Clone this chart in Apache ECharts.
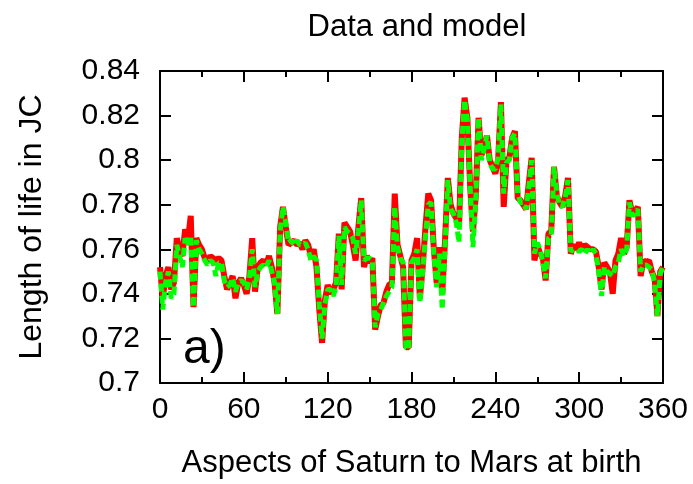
<!DOCTYPE html>
<html>
<head>
<meta charset="utf-8">
<script src="https://cdn.jsdelivr.net/npm/echarts@6/dist/echarts.min.js"></script>
<style>
  html, body { margin: 0; padding: 0; background: #fff; }
  #chart { width: 693px; height: 484px; }
</style>
</head>
<body>
<div id="chart"></div>
<script>
// aspect angle, every 2 degrees from 0 to 360
var angles = [];
for (var a = 0; a <= 360; a += 2) angles.push(a);

// measured length of life (red)
var dataValues = [
  0.752, 0.738, 0.748, 0.752, 0.742, 0.745, 0.765, 0.760, 0.757, 0.769,
  0.764, 0.775, 0.734, 0.765, 0.762, 0.760, 0.756, 0.755, 0.757, 0.756,
  0.755, 0.756, 0.755, 0.748, 0.742, 0.745, 0.748, 0.738, 0.745, 0.747,
  0.744, 0.740, 0.748, 0.765, 0.741, 0.752, 0.754, 0.755, 0.753, 0.757,
  0.752, 0.745, 0.731, 0.770, 0.779, 0.770, 0.762, 0.763, 0.764, 0.762,
  0.763, 0.760, 0.764, 0.762, 0.757, 0.760, 0.752, 0.733, 0.718, 0.737,
  0.744, 0.740, 0.742, 0.745, 0.767, 0.742, 0.772, 0.770, 0.768, 0.762,
  0.755, 0.770, 0.783, 0.752, 0.757, 0.754, 0.756, 0.724, 0.730, 0.735,
  0.736, 0.741, 0.744, 0.745, 0.785, 0.762, 0.757, 0.752, 0.716, 0.716,
  0.755, 0.758, 0.765, 0.738, 0.752, 0.770, 0.785, 0.782, 0.760, 0.745,
  0.761, 0.740, 0.764, 0.792, 0.780, 0.776, 0.774, 0.770, 0.810, 0.828,
  0.819, 0.788, 0.768, 0.784, 0.819, 0.802, 0.806, 0.811, 0.800, 0.797,
  0.794, 0.800, 0.826, 0.779, 0.800, 0.801, 0.810, 0.813, 0.783, 0.782,
  0.780, 0.778, 0.790, 0.801, 0.755, 0.762, 0.758, 0.756, 0.746, 0.767,
  0.768, 0.797, 0.784, 0.781, 0.779, 0.784, 0.792, 0.758, 0.762, 0.760,
  0.763, 0.760, 0.762, 0.761, 0.760, 0.760, 0.759, 0.752, 0.742, 0.754,
  0.752, 0.750, 0.740, 0.755, 0.758, 0.765, 0.758, 0.761, 0.782, 0.776,
  0.777, 0.779, 0.748, 0.755, 0.754, 0.755, 0.750, 0.747, 0.730, 0.750,
  0.752
];

// model (green, dashed)
var modelValues = [
  0.750, 0.733, 0.745, 0.750, 0.738, 0.740, 0.762, 0.757, 0.752, 0.765,
  0.762, 0.766, 0.734, 0.764, 0.760, 0.758, 0.755, 0.753, 0.755, 0.754,
  0.748, 0.754, 0.754, 0.746, 0.743, 0.744, 0.747, 0.741, 0.745, 0.746,
  0.745, 0.742, 0.747, 0.760, 0.743, 0.750, 0.752, 0.753, 0.752, 0.755,
  0.750, 0.745, 0.731, 0.768, 0.779, 0.772, 0.763, 0.764, 0.762, 0.764,
  0.762, 0.762, 0.763, 0.760, 0.755, 0.757, 0.755, 0.735, 0.720, 0.735,
  0.742, 0.742, 0.739, 0.743, 0.766, 0.744, 0.770, 0.768, 0.767, 0.765,
  0.758, 0.768, 0.782, 0.755, 0.756, 0.756, 0.755, 0.725, 0.731, 0.733,
  0.736, 0.739, 0.741, 0.743, 0.779, 0.761, 0.756, 0.754, 0.716, 0.715,
  0.754, 0.756, 0.760, 0.736, 0.750, 0.766, 0.780, 0.781, 0.758, 0.743,
  0.758, 0.733, 0.761, 0.791, 0.778, 0.776, 0.772, 0.763, 0.808, 0.827,
  0.818, 0.788, 0.761, 0.782, 0.819, 0.800, 0.805, 0.811, 0.799, 0.796,
  0.796, 0.801, 0.825, 0.785, 0.799, 0.800, 0.810, 0.812, 0.785, 0.781,
  0.781, 0.778, 0.788, 0.800, 0.758, 0.763, 0.760, 0.754, 0.747, 0.765,
  0.766, 0.797, 0.785, 0.780, 0.779, 0.783, 0.791, 0.759, 0.760, 0.760,
  0.759, 0.760, 0.758, 0.760, 0.758, 0.760, 0.758, 0.750, 0.739, 0.752,
  0.750, 0.749, 0.748, 0.752, 0.754, 0.760, 0.757, 0.760, 0.781, 0.775,
  0.776, 0.778, 0.750, 0.753, 0.753, 0.752, 0.751, 0.745, 0.730, 0.749,
  0.752
];

var xTicks = [0, 60, 120, 180, 240, 300, 360];
var yTicks = [0.7, 0.72, 0.74, 0.76, 0.78, 0.8, 0.82, 0.84];

var FONT = 'Liberation Sans';
var chart = echarts.init(document.getElementById('chart'));

function pairs(vals) {
  return angles.map(function (a, i) { return [a, vals[i]]; });
}

var frameLine = { show: true, onZero: false, lineStyle: { color: '#000', width: 2 } };
var tickStyle = { inside: true, length: 11, lineStyle: { color: '#000', width: 2 } };

var option = {
  backgroundColor: '#fff',
  animation: false,
  title: {
    text: 'Data and model',
    left: 412, top: 7,
    textAlign: 'center',
    textStyle: { fontFamily: FONT, fontSize: 31, fontWeight: 'normal', color: '#000' }
  },
  grid: { left: 160, right: 30, top: 71, bottom: 101 },
  xAxis: [
    {
      type: 'value', min: xTicks[0], max: xTicks[xTicks.length - 1], interval: 60,
      name: 'Aspects of Saturn to Mars at birth',
      nameLocation: 'middle', nameGap: 65,
      nameTextStyle: { fontFamily: FONT, fontSize: 31, color: '#000' },
      axisLine: frameLine,
      axisTick: tickStyle,
      minorTick: { show: true, splitNumber: 2, length: 6, lineStyle: { color: '#000', width: 2 } },
      splitLine: { show: false },
      axisLabel: { fontFamily: FONT, fontSize: 30, color: '#000', margin: 12 }
    },
    {
      type: 'value', position: 'top', min: 0, max: 360, interval: 60,
      axisLine: frameLine,
      axisTick: tickStyle,
      minorTick: { show: true, splitNumber: 2, length: 6, lineStyle: { color: '#000', width: 2 } },
      splitLine: { show: false },
      axisLabel: { show: false }
    }
  ],
  yAxis: [
    {
      type: 'value', min: yTicks[0], max: yTicks[yTicks.length - 1], interval: 0.02,
      name: 'Length of life in JC',
      nameLocation: 'middle', nameGap: 112,
      nameTextStyle: { fontFamily: FONT, fontSize: 32, color: '#000' },
      axisLine: frameLine,
      axisTick: tickStyle,
      splitLine: { show: false },
      axisLabel: {
        fontFamily: FONT, fontSize: 30, color: '#000', margin: 20,
        formatter: function (v) { return String(+v.toFixed(2)); }
      }
    },
    {
      type: 'value', position: 'right', min: 0.7, max: 0.84, interval: 0.02,
      axisLine: frameLine,
      axisTick: tickStyle,
      splitLine: { show: false },
      axisLabel: { show: false }
    }
  ],
  graphic: [{
    type: 'text', left: 183, top: 326,
    style: { text: 'a)', font: '48px "Liberation Sans"', fill: '#000' }
  }],
  series: [
    {
      name: 'data', type: 'line', data: pairs(dataValues),
      showSymbol: false, symbol: 'none',
      lineStyle: { color: '#ff0000', width: 6 }
    },
    {
      name: 'model', type: 'line', data: pairs(modelValues),
      showSymbol: false, symbol: 'none',
      lineStyle: { color: '#00ff00', width: 5, type: [8, 4] }
    }
  ]
};

chart.setOption(option);
</script>
</body>
</html>
